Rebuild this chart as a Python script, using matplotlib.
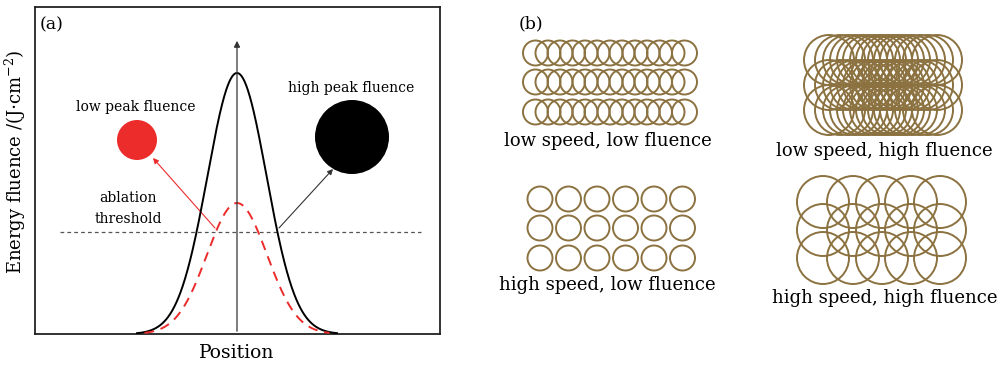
import matplotlib

matplotlib.use("Agg")
import matplotlib.pyplot as plt
import numpy as np
from matplotlib.patches import Circle, FancyArrowPatch

plt.rcParams.update({
    "font.family": "DejaVu Serif",
    "mathtext.fontset": "dejavuserif",
})

GOLD = "#8b7240"
RED = "#ec2b2b"

# --- panel (a): beam profiles (px units, x relative to beam centre) ---------
profile_names = ["high", "low"]
profile_peak = [261, 131]     # peak height above baseline
profile_sigma = [29.5, 30.0]  # gaussian width
threshold = 102
threshold_span = [-177, 184]
spot_labels = ["low peak fluence", "high peak fluence"]
spot_xy = [(-100, 194), (115, 197)]
spot_r = [20, 37]
label_xy = [(-101, 227), (114, 246)]
arrow_from = [(-22, 106), (42, 106)]
arrow_to = [(-84, 176), (96, 165)]

# --- panel (b): scanned spot patterns (px coords) --------------------------
tl_x = [535.5, 548, 560, 572.5, 585, 597, 610, 622, 635, 647, 659.5, 672, 684.5]
tl_y = [53, 82, 112]
tl_r = 12.5
tr_x = [829, 840, 848, 855, 862, 868, 875, 881, 887, 893, 899, 905, 912, 920, 928, 937]
tr_y = [60, 85, 110]
tr_r = 25
bl_x = [540, 568.5, 597, 625.5, 654, 682.5]
bl_y = [199, 228, 258]
bl_r = 12.5
br_x = [823, 853, 882, 911, 940]
br_y = [202, 230, 258]
br_r = 26
pattern_labels = ["low speed, low fluence", "low speed, high fluence",
                  "high speed, low fluence", "high speed, high fluence"]
pattern_label_xy = [(608, 141), (884, 151), (607, 285), (885, 298)]

fig = plt.figure(figsize=(10.05, 3.70), dpi=100)
fig.patch.set_facecolor("white")

# ---------------------------------------------------------------- panel (a)
ax = fig.add_axes([35 / 1005, 36 / 370, 405 / 1005, 327 / 370])
ax.set_xlim(-202, 203)
ax.set_ylim(0, 327)
ax.set_xticks([])
ax.set_yticks([])
for s in ax.spines.values():
    s.set_linewidth(1.3)
    s.set_color("#222222")

xs = np.linspace(-100, 100, 400)
g_high = profile_peak[0] * np.exp(-xs ** 2 / (2 * profile_sigma[0] ** 2))
g_low = profile_peak[1] * np.exp(-xs ** 2 / (2 * profile_sigma[1] ** 2))
ax.plot(xs, g_high, color="black", lw=1.4, zorder=3)
ax.plot(xs[15:-15], g_low[15:-15], color=RED, lw=1.4, dashes=(5, 3.5), zorder=3)

ax.plot(threshold_span, [threshold, threshold], color="#555555", lw=0.9,
        dashes=(3, 2.5))
ax.annotate("", xy=(0, 296), xytext=(0, 0),
            arrowprops=dict(arrowstyle="-|>", color="#333333", lw=0.9,
                            mutation_scale=9))

ax.add_patch(Circle(spot_xy[0], spot_r[0], color=RED, lw=0))
ax.add_patch(Circle(spot_xy[1], spot_r[1], color="black", lw=0))
for lab, (tx, ty) in zip(spot_labels, label_xy):
    ax.text(tx, ty, lab, ha="center", va="center", fontsize=10)
ax.text(-109, 136, "ablation", ha="center", va="center", fontsize=10)
ax.text(-109, 115, "threshold", ha="center", va="center", fontsize=10)

for (x0, y0), (x1, y1), c in zip(arrow_from, arrow_to, [RED, "#333333"]):
    ax.add_patch(FancyArrowPatch((x0, y0), (x1, y1), arrowstyle="-|>",
                                 mutation_scale=8, color=c, lw=0.8,
                                 shrinkA=0, shrinkB=0))

ax.text(-197, 309, "(a)", ha="left", va="center", fontsize=12.5)
fig.text(15 / 1005, 1 - 162 / 370, r"Energy fluence /(J$\cdot$cm$^{-2}$)",
         rotation=90, ha="center", va="center", fontsize=13)
fig.text(237 / 1005, 1 - 353 / 370, "Position", ha="center", va="center",
         fontsize=13.5)

# ---------------------------------------------------------------- panel (b)
bx = fig.add_axes([490 / 1005, 0, 515 / 1005, 1])
bx.set_xlim(490, 1005)
bx.set_ylim(370, 0)
bx.axis("off")

for xs_, ys_, r in [(tl_x, tl_y, tl_r), (tr_x, tr_y, tr_r),
                    (bl_x, bl_y, bl_r), (br_x, br_y, br_r)]:
    for cy in ys_:
        for cx in xs_:
            bx.add_patch(Circle((cx, cy), r, fill=False, ec=GOLD, lw=1.4))

bx.text(519, 24, "(b)", ha="left", va="center", fontsize=12.5)
for lab, (tx, ty) in zip(pattern_labels, pattern_label_xy):
    bx.text(tx, ty, lab, ha="center", va="center", fontsize=13)

fig.savefig("out.png", dpi=100, facecolor="white")
